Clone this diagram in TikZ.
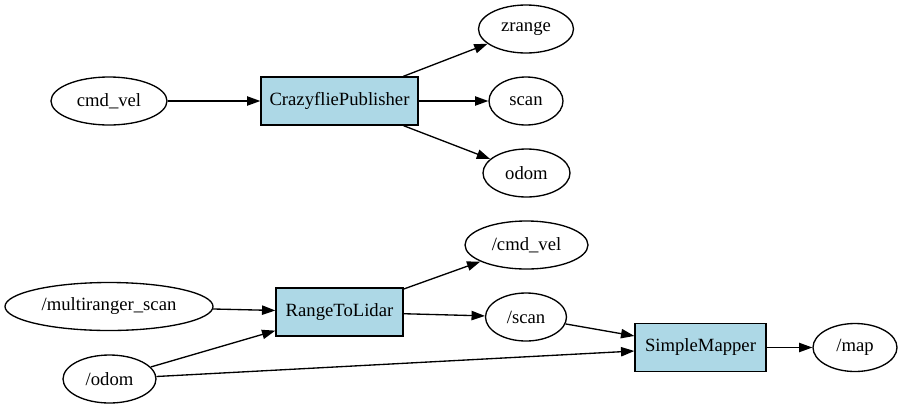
\documentclass[tikz,border=0pt]{standalone}
\usepackage{fontspec}
\setmainfont{Liberation Serif}
\usetikzlibrary{arrows.meta, shapes.geometric}
\definecolor{procfill}{HTML}{ADD8E6}

\begin{document}
\begin{tikzpicture}[
  x=0.75pt, y=-0.75pt,
  every node/.style={draw, line width=1pt, minimum height=36pt, inner sep=0pt, font=\fontsize{14pt}{16pt}\selectfont},
  topic/.style={ellipse},
  proc/.style={rectangle, fill=procfill},
  arr/.style={-{Triangle[length=10pt, width=7pt]}, line width=1pt}
]
\useasboundingbox (0,0) rectangle (899,408);

% first graph
\node[topic, minimum width=87pt]     (cmdvel)  at (109,101)   {cmd\_vel};
\node[proc,  minimum width=117.75pt] (crazy)   at (339.5,101) {CrazyfliePublisher};
\node[topic, minimum width=71.25pt]  (zrange)  at (526,29)    {zrange};
\node[topic, minimum width=55.5pt]   (scan)    at (526,101)   {scan};
\node[topic, minimum width=65.25pt]  (odom)    at (526.5,173) {odom};

\draw[arr] (cmdvel) -- (crazy);
\draw[arr] (crazy) -- (zrange);
\draw[arr] (crazy) -- (scan);
\draw[arr] (crazy) -- (odom);

% second graph
\node[topic, minimum width=156pt]    (multi)   at (109,306.5)   {/multiranger\_scan};
\node[topic, minimum width=69.75pt]  (odomB)   at (109.5,379)   {/odom};
\node[proc,  minimum width=95.25pt]  (rtl)     at (339.5,312)   {RangeToLidar};
\node[topic, minimum width=92.25pt]  (cmdvelB) at (526.5,245)   {/cmd\_vel};
\node[topic, minimum width=60.75pt]  (scanB)   at (526,317)     {/scan};
\node[proc,  minimum width=98.25pt]  (mapper)  at (700.5,347.5) {SimpleMapper};
\node[topic, minimum width=63pt]     (map)     at (855,347.5)   {/map};

\draw[arr] (multi) -- (rtl);
\draw[arr] (odomB) -- (rtl);
\draw[arr] (rtl) -- (cmdvelB);
\draw[arr] (rtl) -- (scanB);
\draw[arr] (scanB) -- (mapper);
\draw[arr] (odomB) -- (mapper);
\draw[arr] (mapper) -- (map);
\end{tikzpicture}
\end{document}
